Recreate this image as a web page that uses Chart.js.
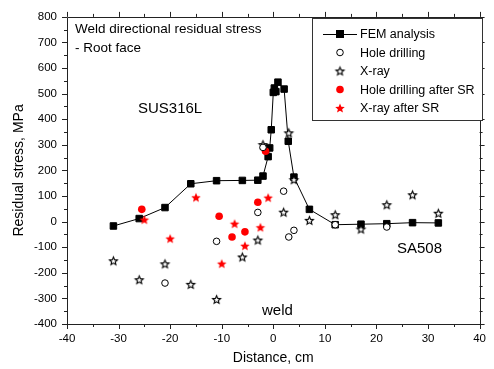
<!DOCTYPE html>
<html>
<head>
<meta charset="utf-8">
<script src="https://cdn.jsdelivr.net/npm/chart.js@4.4.1/dist/chart.umd.min.js"></script>
<style>
  html, body { margin: 0; padding: 0; background: #ffffff; }
  #wrap { width: 494px; height: 369px; position: relative; }
</style>
</head>
<body>
<div id="wrap"><canvas id="c" width="494" height="369"></canvas></div>
<script>
// ---- Data ----
const femX = [-31, -26, -21, -16, -11, -6, -3, -2, -1, -0.7, -0.4, 0, 0.2, 0.5, 0.9, 2.1, 2.9, 4, 7, 12, 17, 22, 27, 32];
const femY = [-17, 12, 55, 148, 160, 161, 162, 178, 254, 288, 359, 505, 522, 508, 545, 518, 314, 174, 48, -12, -10, -8, -4, -5];

const holeX = [-21, -11, -3, -2, 2, 3, 4, 12, 22];
const holeY = [-240, -77, 36, 290, 119, -60, -34, -12, -21];

const xrayX = [-31, -26, -21, -16, -11, -6, -3, -2, 2, 3, 4, 7, 12, 17, 22, 27, 32];
const xrayY = [-153, -227, -165, -245, -304, -138, -72, 301, 37, 347, 164, 5, 27, -29, 66, 105, 33];

const holeSRX = [-25.5, -10.5, -8, -5.5, -3, -1.5];
const holeSRY = [48, 21, -60, -40, 76, 275];

const xraySRX = [-25, -20, -15, -10, -7.5, -5.5, -2.5, -1];
const xraySRY = [8, -66, 95, -164, -8, -94, -22, 94];

const seriesNames = ['FEM analysis', 'Hole drilling', 'X-ray', 'Hole drilling after SR', 'X-ray after SR'];
const xTickValues = [-40, -30, -20, -10, 0, 10, 20, 30, 40];
const yTickValues = [-400, -300, -200, -100, 0, 100, 200, 300, 400, 500, 600, 700, 800];
const xTitle = 'Distance, cm';
const yTitle = 'Residual stress, MPa';
const noteLines = ['Weld directional residual stress', '- Root face'];
const regionLabels = ['SUS316L', 'SA508', 'weld'];

// ---- helpers ----
const pts = (xs, ys) => xs.map((x, i) => ({ x: x, y: ys[i] }));

function starCanvas(R, fill, stroke, lw) {
  const pad = Math.ceil(lw) + 1;
  const s = Math.ceil(2 * R + 2 * pad);
  const cv = document.createElement('canvas');
  cv.width = s; cv.height = s;
  const g = cv.getContext('2d');
  const cx = s / 2, cy = s / 2 + R * 0.1;
  const r = R * 0.45;
  g.beginPath();
  for (let i = 0; i < 10; i++) {
    const ang = -Math.PI / 2 + i * Math.PI / 5;
    const rr = i % 2 === 0 ? R : r;
    const px = cx + rr * Math.cos(ang), py = cy + rr * Math.sin(ang);
    if (i === 0) g.moveTo(px, py); else g.lineTo(px, py);
  }
  g.closePath();
  g.fillStyle = fill; g.fill();
  if (stroke) { g.lineWidth = lw; g.strokeStyle = stroke; g.lineJoin = 'miter'; g.stroke(); }
  return cv;
}
const openStar = starCanvas(4.2, '#ffffff', '#000000', 1.1);
const redStar = starCanvas(5.0, '#ff0000', null, 0);

const FONT = '"Liberation Sans", Arial, sans-serif';

// Frame + minor/major ticks + texts + legend
const decor = {
  id: 'decor',
  afterDraw(chart) {
    const { ctx, chartArea: a, scales: { x, y } } = chart;
    ctx.save();
    ctx.strokeStyle = '#222';
    ctx.lineWidth = 1;
    ctx.beginPath();
    ctx.rect(Math.round(a.left) + 0.5, Math.round(a.top) + 0.5, Math.round(a.right - a.left), Math.round(a.bottom - a.top));
    ctx.stroke();
    ctx.beginPath();
    for (let v = -40; v <= 40; v += 5) {
      const px = Math.round(x.getPixelForValue(v)) + 0.5;
      const len = v % 10 === 0 ? 5 : 3;
      ctx.moveTo(px, a.bottom); ctx.lineTo(px, a.bottom + len);
      ctx.moveTo(px, a.top); ctx.lineTo(px, a.top - len);
    }
    for (let v = -400; v <= 800; v += 50) {
      const py = Math.round(y.getPixelForValue(v)) + 0.5;
      const len = v % 100 === 0 ? 5 : 3;
      ctx.moveTo(a.left, py); ctx.lineTo(a.left - len, py);
      ctx.moveTo(a.right, py); ctx.lineTo(a.right + len, py);
    }
    ctx.stroke();

    // annotations
    ctx.fillStyle = '#000';
    ctx.textBaseline = 'alphabetic';
    ctx.textAlign = 'left';
    ctx.font = '13.5px ' + FONT;
    ctx.fillText(noteLines[0], 75, 33);
    ctx.fillText(noteLines[1], 75, 52);
    ctx.font = '15px ' + FONT;
    ctx.fillText(regionLabels[0], 138, 113);
    ctx.fillText(regionLabels[1], 397, 253);
    ctx.fillText(regionLabels[2], 262, 315);

    // legend box
    const bx = 312, by = 18, bw = 170, bh = 102;
    ctx.fillStyle = '#fff';
    ctx.fillRect(bx, by, bw, bh);
    ctx.strokeStyle = '#333';
    ctx.lineWidth = 1;
    ctx.strokeRect(bx + 0.5, by + 0.5, bw, bh);
    const rows = [34, 52.5, 71, 89.5, 108];
    const sx = 340;
    ctx.font = '12.5px ' + FONT;
    ctx.textBaseline = 'middle';
    ctx.strokeStyle = '#000';
    ctx.beginPath();
    ctx.moveTo(323, rows[0] + 0.5); ctx.lineTo(357, rows[0] + 0.5);
    ctx.stroke();
    ctx.fillStyle = '#000';
    ctx.fillRect(sx - 4, rows[0] - 4, 8, 8);
    ctx.beginPath(); ctx.arc(sx, rows[1], 3.3, 0, Math.PI * 2);
    ctx.fillStyle = '#fff'; ctx.fill(); ctx.strokeStyle = '#000'; ctx.stroke();
    ctx.drawImage(openStar, sx - openStar.width / 2, rows[2] - openStar.height / 2);
    ctx.beginPath(); ctx.arc(sx, rows[3], 3.8, 0, Math.PI * 2);
    ctx.fillStyle = '#ff0000'; ctx.fill();
    ctx.drawImage(redStar, sx - redStar.width / 2, rows[4] - redStar.height / 2);
    ctx.fillStyle = '#000';
    seriesNames.forEach((n, i) => ctx.fillText(n, 360, rows[i] + 1));
    ctx.restore();
  }
};

new Chart(document.getElementById('c'), {
  type: 'scatter',
  data: {
    datasets: [
      {
        label: seriesNames[1], data: pts(holeX, holeY),
        pointStyle: 'circle', pointRadius: 3.3, pointBorderWidth: 1,
        pointBackgroundColor: '#ffffff', pointBorderColor: '#000000', showLine: false
      },
      {
        label: seriesNames[2], data: pts(xrayX, xrayY),
        pointStyle: openStar, pointRadius: 5, showLine: false
      },
      {
        label: seriesNames[3], data: pts(holeSRX, holeSRY),
        pointStyle: 'circle', pointRadius: 3.8, pointBorderWidth: 0,
        pointBackgroundColor: '#ff0000', pointBorderColor: '#ff0000', showLine: false
      },
      {
        label: seriesNames[4], data: pts(xraySRX, xraySRY),
        pointStyle: redStar, pointRadius: 5, showLine: false
      },
      {
        label: seriesNames[0], data: pts(femX, femY),
        showLine: true, borderColor: '#000000', borderWidth: 1,
        pointStyle: 'rect', pointRadius: 4.6, pointBorderWidth: 1,
        pointBackgroundColor: '#000000', pointBorderColor: '#000000'
      }
    ]
  },
  options: {
    responsive: false,
    animation: false,
    events: [],
    layout: { padding: { top: 16, right: 8, left: 0, bottom: 0 } },
    plugins: { legend: { display: false }, tooltip: { enabled: false } },
    scales: {
      x: {
        type: 'linear', min: -40, max: 40,
        afterFit(s) { s.height = 45; },
        afterBuildTicks(s) { s.ticks = xTickValues.map(v => ({ value: v })); },
        grid: { display: false, drawTicks: false },
        border: { display: false },
        ticks: { padding: 8, color: '#000', font: { family: FONT, size: 11.5 }, maxRotation: 0, autoSkip: false },
        title: { display: true, text: xTitle, color: '#000', font: { family: FONT, size: 14 }, padding: { top: 0, bottom: 2 } }
      },
      y: {
        type: 'linear', min: -400, max: 800,
        afterFit(s) { s.width = 67; },
        afterBuildTicks(s) { s.ticks = yTickValues.map(v => ({ value: v })); },
        grid: { display: false, drawTicks: false },
        border: { display: false },
        ticks: { padding: 10, color: '#000', font: { family: FONT, size: 11.5 }, autoSkip: false },
        title: { display: true, text: yTitle, color: '#000', font: { family: FONT, size: 14 }, padding: { top: 11, bottom: 0 } }
      }
    }
  },
  plugins: [decor]
});
</script>
</body>
</html>
